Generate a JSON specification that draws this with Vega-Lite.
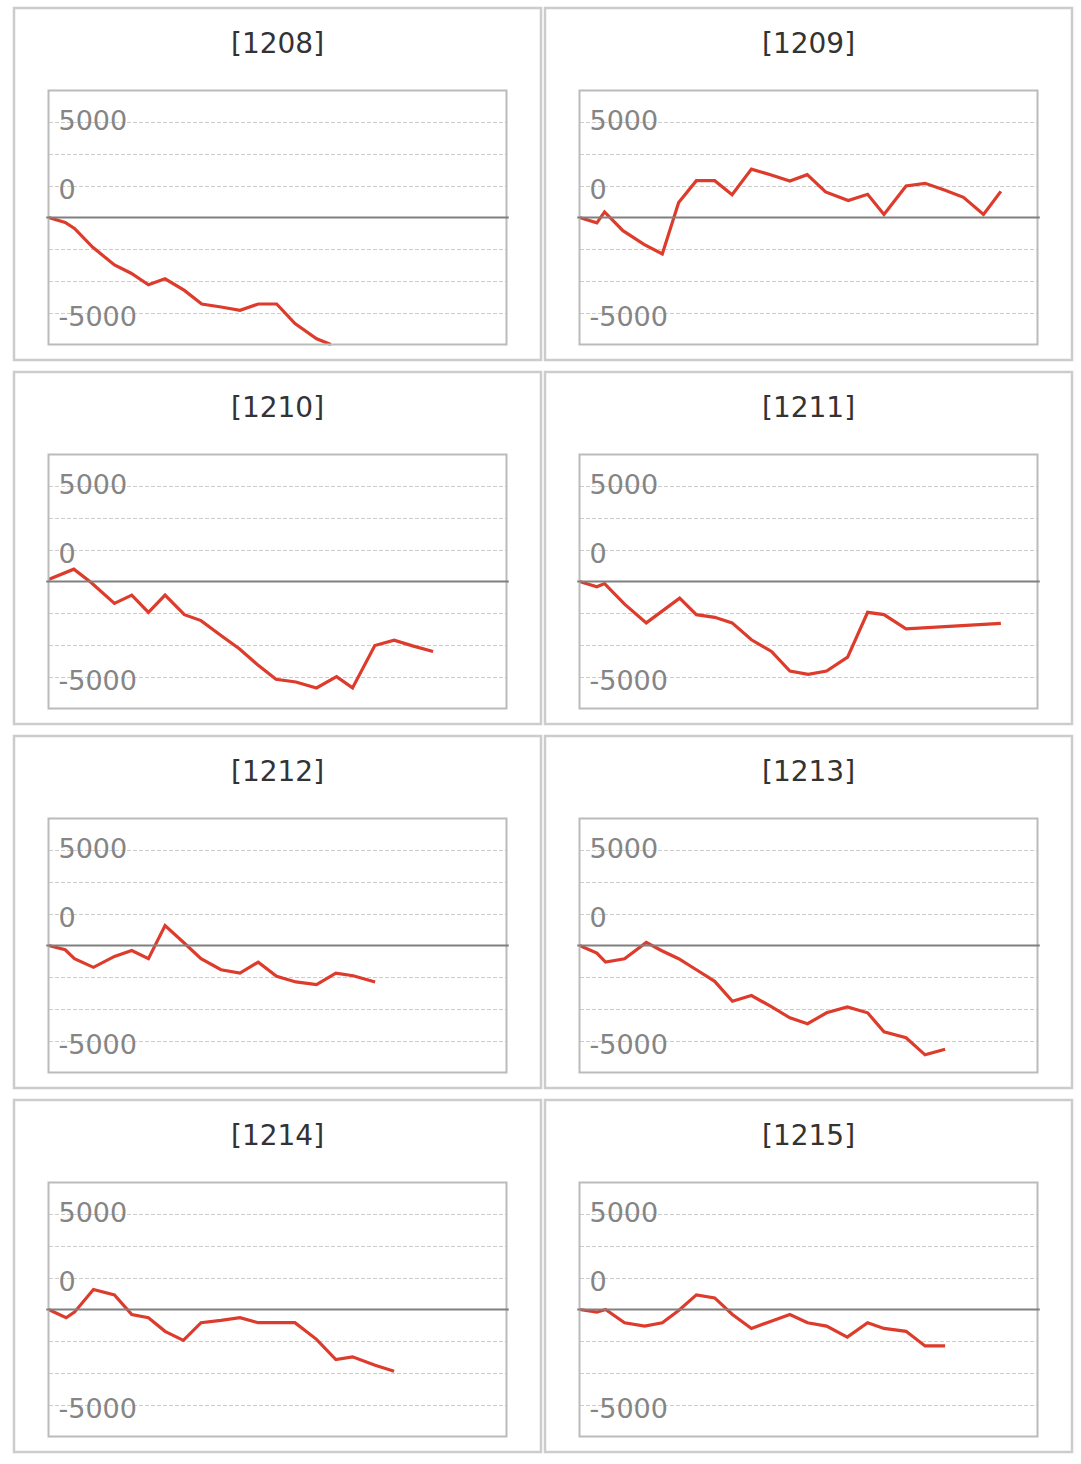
{
  "$schema": "https://vega.github.io/schema/vega-lite/v6.json",
  "background": "white",
  "padding": {"left": 12, "top": 6, "right": 8, "bottom": 8},
  "columns": 2,
  "spacing": {"row": 8, "column": 0},
  "config": {
    "view": {"stroke": "#cccccc", "strokeWidth": 2.5},
    "title": {"font": "DejaVu Sans", "fontSize": 28, "fontWeight": "normal", "color": "#333333", "anchor": "middle", "frame": "group", "baseline": "middle", "offset": -51},
    "axisY": {
      "domain": false, "ticks": false, "tickSize": 0, "grid": true,
      "labelAlign": "left", "labelPadding": -44, "labelBaseline": "middle",
      "labelFont": "DejaVu Sans", "labelFontSize": 27, "labelColor": "#858585",
      "labelBound": false, "labelOverlap": false, "labelFlush": false,
      "gridColor": "#cccccc", "gridDash": [4, 2], "gridWidth": 1
    }
  },
  "data": {"values": [
    {"p": "1208", "g": 0, "v": 0}, {"p": "1208", "g": 364, "v": -390}, {"p": "1208", "g": 567, "v": -860}, {"p": "1208", "g": 967, "v": -2350},
    {"p": "1208", "g": 1440, "v": -3730}, {"p": "1208", "g": 1804, "v": -4390}, {"p": "1208", "g": 2182, "v": -5300}, {"p": "1208", "g": 2545, "v": -4830},
    {"p": "1208", "g": 2967, "v": -5740}, {"p": "1208", "g": 3345, "v": -6810}, {"p": "1208", "g": 3767, "v": -7050}, {"p": "1208", "g": 4182, "v": -7310},
    {"p": "1208", "g": 4582, "v": -6810}, {"p": "1208", "g": 4982, "v": -6810}, {"p": "1208", "g": 5382, "v": -8350}, {"p": "1208", "g": 5855, "v": -9550},
    {"p": "1208", "g": 6165, "v": -10000},

    {"p": "1209", "g": 0, "v": 0}, {"p": "1209", "g": 379, "v": -420}, {"p": "1209", "g": 547, "v": 440}, {"p": "1209", "g": 948, "v": -1040},
    {"p": "1209", "g": 1407, "v": -2110}, {"p": "1209", "g": 1808, "v": -2870}, {"p": "1209", "g": 2165, "v": 1180}, {"p": "1209", "g": 2552, "v": 2900},
    {"p": "1209", "g": 2952, "v": 2900}, {"p": "1209", "g": 3332, "v": 1800}, {"p": "1209", "g": 3754, "v": 3810}, {"p": "1209", "g": 4170, "v": 3370},
    {"p": "1209", "g": 4593, "v": 2870}, {"p": "1209", "g": 4972, "v": 3370}, {"p": "1209", "g": 5373, "v": 2010}, {"p": "1209", "g": 5868, "v": 1330},
    {"p": "1209", "g": 6291, "v": 1830}, {"p": "1209", "g": 6648, "v": 240}, {"p": "1209", "g": 7130, "v": 2480}, {"p": "1209", "g": 7545, "v": 2690},
    {"p": "1209", "g": 7968, "v": 2170}, {"p": "1209", "g": 8384, "v": 1590}, {"p": "1209", "g": 8821, "v": 240}, {"p": "1209", "g": 9200, "v": 2060},

    {"p": "1210", "g": 0, "v": 150}, {"p": "1210", "g": 553, "v": 970}, {"p": "1210", "g": 930, "v": -80}, {"p": "1210", "g": 1440, "v": -1720},
    {"p": "1210", "g": 1818, "v": -1070}, {"p": "1210", "g": 2182, "v": -2430}, {"p": "1210", "g": 2545, "v": -1070}, {"p": "1210", "g": 2967, "v": -2610},
    {"p": "1210", "g": 3330, "v": -3080}, {"p": "1210", "g": 3766, "v": -4250}, {"p": "1210", "g": 4166, "v": -5300}, {"p": "1210", "g": 4566, "v": -6550},
    {"p": "1210", "g": 4966, "v": -7700}, {"p": "1210", "g": 5402, "v": -7910}, {"p": "1210", "g": 5852, "v": -8380}, {"p": "1210", "g": 6289, "v": -7490},
    {"p": "1210", "g": 6638, "v": -8380}, {"p": "1210", "g": 7125, "v": -5040}, {"p": "1210", "g": 7546, "v": -4620}, {"p": "1210", "g": 7968, "v": -5090},
    {"p": "1210", "g": 8397, "v": -5510},

    {"p": "1211", "g": 0, "v": 0}, {"p": "1211", "g": 379, "v": -420}, {"p": "1211", "g": 547, "v": -160}, {"p": "1211", "g": 984, "v": -1780},
    {"p": "1211", "g": 1458, "v": -3260}, {"p": "1211", "g": 2187, "v": -1310}, {"p": "1211", "g": 2552, "v": -2610}, {"p": "1211", "g": 2952, "v": -2820},
    {"p": "1211", "g": 3332, "v": -3260}, {"p": "1211", "g": 3754, "v": -4590}, {"p": "1211", "g": 4192, "v": -5510}, {"p": "1211", "g": 4593, "v": -7050},
    {"p": "1211", "g": 4994, "v": -7310}, {"p": "1211", "g": 5395, "v": -7050}, {"p": "1211", "g": 5854, "v": -5950}, {"p": "1211", "g": 6291, "v": -2430},
    {"p": "1211", "g": 6648, "v": -2610}, {"p": "1211", "g": 7130, "v": -3730}, {"p": "1211", "g": 9200, "v": -3290},

    {"p": "1212", "g": 0, "v": 0}, {"p": "1212", "g": 364, "v": -340}, {"p": "1212", "g": 567, "v": -1040}, {"p": "1212", "g": 981, "v": -1720},
    {"p": "1212", "g": 1440, "v": -860}, {"p": "1212", "g": 1818, "v": -390}, {"p": "1212", "g": 2182, "v": -1040}, {"p": "1212", "g": 2545, "v": 1570},
    {"p": "1212", "g": 2945, "v": 260}, {"p": "1212", "g": 3330, "v": -1040}, {"p": "1212", "g": 3766, "v": -1910}, {"p": "1212", "g": 4180, "v": -2170},
    {"p": "1212", "g": 4580, "v": -1310}, {"p": "1212", "g": 4980, "v": -2430}, {"p": "1212", "g": 5402, "v": -2870}, {"p": "1212", "g": 5852, "v": -3080},
    {"p": "1212", "g": 6274, "v": -2170}, {"p": "1212", "g": 6652, "v": -2380}, {"p": "1212", "g": 7132, "v": -2870},

    {"p": "1213", "g": 0, "v": 0}, {"p": "1213", "g": 379, "v": -600}, {"p": "1213", "g": 569, "v": -1310}, {"p": "1213", "g": 984, "v": -1040},
    {"p": "1213", "g": 1458, "v": 240}, {"p": "1213", "g": 1786, "v": -390}, {"p": "1213", "g": 2165, "v": -1040}, {"p": "1213", "g": 2552, "v": -1910},
    {"p": "1213", "g": 2952, "v": -2820}, {"p": "1213", "g": 3339, "v": -4390}, {"p": "1213", "g": 3754, "v": -3940}, {"p": "1213", "g": 4170, "v": -4780},
    {"p": "1213", "g": 4593, "v": -5690}, {"p": "1213", "g": 4979, "v": -6160}, {"p": "1213", "g": 5395, "v": -5300}, {"p": "1213", "g": 5847, "v": -4830},
    {"p": "1213", "g": 6291, "v": -5300}, {"p": "1213", "g": 6648, "v": -6790}, {"p": "1213", "g": 7130, "v": -7260}, {"p": "1213", "g": 7545, "v": -8610},
    {"p": "1213", "g": 7983, "v": -8170},

    {"p": "1214", "g": 0, "v": 0}, {"p": "1214", "g": 385, "v": -650}, {"p": "1214", "g": 567, "v": -210}, {"p": "1214", "g": 981, "v": 1570},
    {"p": "1214", "g": 1440, "v": 1150}, {"p": "1214", "g": 1818, "v": -390}, {"p": "1214", "g": 2182, "v": -650}, {"p": "1214", "g": 2545, "v": -1720},
    {"p": "1214", "g": 2945, "v": -2430}, {"p": "1214", "g": 3330, "v": -1040}, {"p": "1214", "g": 3766, "v": -860}, {"p": "1214", "g": 4180, "v": -650},
    {"p": "1214", "g": 4580, "v": -1040}, {"p": "1214", "g": 4980, "v": -1040}, {"p": "1214", "g": 5380, "v": -1040}, {"p": "1214", "g": 5852, "v": -2350},
    {"p": "1214", "g": 6274, "v": -3940}, {"p": "1214", "g": 6638, "v": -3730}, {"p": "1214", "g": 7132, "v": -4390}, {"p": "1214", "g": 7546, "v": -4860},

    {"p": "1215", "g": 0, "v": 0}, {"p": "1215", "g": 379, "v": -210}, {"p": "1215", "g": 569, "v": 0}, {"p": "1215", "g": 984, "v": -1040},
    {"p": "1215", "g": 1422, "v": -1310}, {"p": "1215", "g": 1808, "v": -1040}, {"p": "1215", "g": 2165, "v": -80}, {"p": "1215", "g": 2552, "v": 1150},
    {"p": "1215", "g": 2952, "v": 910}, {"p": "1215", "g": 3339, "v": -390}, {"p": "1215", "g": 3754, "v": -1490}, {"p": "1215", "g": 4170, "v": -940},
    {"p": "1215", "g": 4593, "v": -390}, {"p": "1215", "g": 4979, "v": -1040}, {"p": "1215", "g": 5395, "v": -1310}, {"p": "1215", "g": 5847, "v": -2170},
    {"p": "1215", "g": 6291, "v": -1040}, {"p": "1215", "g": 6648, "v": -1490}, {"p": "1215", "g": 7130, "v": -1720}, {"p": "1215", "g": 7545, "v": -2870},
    {"p": "1215", "g": 7983, "v": -2870}
  ]},
  "concat": [
    {"width": 527, "height": 352, "title": "[1208]", "layer": [
      {"transform": [{"filter": "datum.p == '1208'"}], "mark": {"type": "line", "color": "#dd3b2c", "strokeWidth": 3.2},
       "encoding": {"x": {"field": "g", "type": "quantitative", "scale": {"domain": [0, 10000], "range": [34.5, 492.5], "nice": false, "zero": false}, "axis": null},
                    "y": {"field": "v", "type": "quantitative", "scale": {"domain": [-10000, 10000], "range": [336.5, 82.5], "nice": false}, "axis": {"title": null, "values": [-7500, -5000, -2500, 2500, 5000, 7500], "labelExpr": "datum.value == 7500 ? '5000' : datum.value == 2500 ? '0' : datum.value == -7500 ? '-5000' : ''", "labelOffset": {"condition": {"test": "datum.value == 7500", "value": -1}, "value": 5}}}}},
      {"data": {"values": [{}]}, "mark": {"type": "rect", "filled": false, "color": "#bbbbbb", "strokeWidth": 2},
       "encoding": {"x": {"datum": 0, "type": "quantitative"}, "x2": {"datum": 10000}, "y": {"datum": -10000, "type": "quantitative"}, "y2": {"datum": 10000}}},
      {"data": {"values": [{}]}, "mark": {"type": "rule", "color": "#808080", "strokeWidth": 2},
       "encoding": {"x": {"datum": -50, "type": "quantitative"}, "x2": {"datum": 10050}, "y": {"datum": 0, "type": "quantitative"}}}
    ]},
    {"width": 527, "height": 352, "title": "[1209]", "layer": [
      {"transform": [{"filter": "datum.p == '1209'"}], "mark": {"type": "line", "color": "#dd3b2c", "strokeWidth": 3.2},
       "encoding": {"x": {"field": "g", "type": "quantitative", "scale": {"domain": [0, 10000], "range": [34.5, 492.5], "nice": false, "zero": false}, "axis": null},
                    "y": {"field": "v", "type": "quantitative", "scale": {"domain": [-10000, 10000], "range": [336.5, 82.5], "nice": false}, "axis": {"title": null, "values": [-7500, -5000, -2500, 2500, 5000, 7500], "labelExpr": "datum.value == 7500 ? '5000' : datum.value == 2500 ? '0' : datum.value == -7500 ? '-5000' : ''", "labelOffset": {"condition": {"test": "datum.value == 7500", "value": -1}, "value": 5}}}}},
      {"data": {"values": [{}]}, "mark": {"type": "rect", "filled": false, "color": "#bbbbbb", "strokeWidth": 2},
       "encoding": {"x": {"datum": 0, "type": "quantitative"}, "x2": {"datum": 10000}, "y": {"datum": -10000, "type": "quantitative"}, "y2": {"datum": 10000}}},
      {"data": {"values": [{}]}, "mark": {"type": "rule", "color": "#808080", "strokeWidth": 2},
       "encoding": {"x": {"datum": -50, "type": "quantitative"}, "x2": {"datum": 10050}, "y": {"datum": 0, "type": "quantitative"}}}
    ]},
    {"width": 527, "height": 352, "title": "[1210]", "layer": [
      {"transform": [{"filter": "datum.p == '1210'"}], "mark": {"type": "line", "color": "#dd3b2c", "strokeWidth": 3.2},
       "encoding": {"x": {"field": "g", "type": "quantitative", "scale": {"domain": [0, 10000], "range": [34.5, 492.5], "nice": false, "zero": false}, "axis": null},
                    "y": {"field": "v", "type": "quantitative", "scale": {"domain": [-10000, 10000], "range": [336.5, 82.5], "nice": false}, "axis": {"title": null, "values": [-7500, -5000, -2500, 2500, 5000, 7500], "labelExpr": "datum.value == 7500 ? '5000' : datum.value == 2500 ? '0' : datum.value == -7500 ? '-5000' : ''", "labelOffset": {"condition": {"test": "datum.value == 7500", "value": -1}, "value": 5}}}}},
      {"data": {"values": [{}]}, "mark": {"type": "rect", "filled": false, "color": "#bbbbbb", "strokeWidth": 2},
       "encoding": {"x": {"datum": 0, "type": "quantitative"}, "x2": {"datum": 10000}, "y": {"datum": -10000, "type": "quantitative"}, "y2": {"datum": 10000}}},
      {"data": {"values": [{}]}, "mark": {"type": "rule", "color": "#808080", "strokeWidth": 2},
       "encoding": {"x": {"datum": -50, "type": "quantitative"}, "x2": {"datum": 10050}, "y": {"datum": 0, "type": "quantitative"}}}
    ]},
    {"width": 527, "height": 352, "title": "[1211]", "layer": [
      {"transform": [{"filter": "datum.p == '1211'"}], "mark": {"type": "line", "color": "#dd3b2c", "strokeWidth": 3.2},
       "encoding": {"x": {"field": "g", "type": "quantitative", "scale": {"domain": [0, 10000], "range": [34.5, 492.5], "nice": false, "zero": false}, "axis": null},
                    "y": {"field": "v", "type": "quantitative", "scale": {"domain": [-10000, 10000], "range": [336.5, 82.5], "nice": false}, "axis": {"title": null, "values": [-7500, -5000, -2500, 2500, 5000, 7500], "labelExpr": "datum.value == 7500 ? '5000' : datum.value == 2500 ? '0' : datum.value == -7500 ? '-5000' : ''", "labelOffset": {"condition": {"test": "datum.value == 7500", "value": -1}, "value": 5}}}}},
      {"data": {"values": [{}]}, "mark": {"type": "rect", "filled": false, "color": "#bbbbbb", "strokeWidth": 2},
       "encoding": {"x": {"datum": 0, "type": "quantitative"}, "x2": {"datum": 10000}, "y": {"datum": -10000, "type": "quantitative"}, "y2": {"datum": 10000}}},
      {"data": {"values": [{}]}, "mark": {"type": "rule", "color": "#808080", "strokeWidth": 2},
       "encoding": {"x": {"datum": -50, "type": "quantitative"}, "x2": {"datum": 10050}, "y": {"datum": 0, "type": "quantitative"}}}
    ]},
    {"width": 527, "height": 352, "title": "[1212]", "layer": [
      {"transform": [{"filter": "datum.p == '1212'"}], "mark": {"type": "line", "color": "#dd3b2c", "strokeWidth": 3.2},
       "encoding": {"x": {"field": "g", "type": "quantitative", "scale": {"domain": [0, 10000], "range": [34.5, 492.5], "nice": false, "zero": false}, "axis": null},
                    "y": {"field": "v", "type": "quantitative", "scale": {"domain": [-10000, 10000], "range": [336.5, 82.5], "nice": false}, "axis": {"title": null, "values": [-7500, -5000, -2500, 2500, 5000, 7500], "labelExpr": "datum.value == 7500 ? '5000' : datum.value == 2500 ? '0' : datum.value == -7500 ? '-5000' : ''", "labelOffset": {"condition": {"test": "datum.value == 7500", "value": -1}, "value": 5}}}}},
      {"data": {"values": [{}]}, "mark": {"type": "rect", "filled": false, "color": "#bbbbbb", "strokeWidth": 2},
       "encoding": {"x": {"datum": 0, "type": "quantitative"}, "x2": {"datum": 10000}, "y": {"datum": -10000, "type": "quantitative"}, "y2": {"datum": 10000}}},
      {"data": {"values": [{}]}, "mark": {"type": "rule", "color": "#808080", "strokeWidth": 2},
       "encoding": {"x": {"datum": -50, "type": "quantitative"}, "x2": {"datum": 10050}, "y": {"datum": 0, "type": "quantitative"}}}
    ]},
    {"width": 527, "height": 352, "title": "[1213]", "layer": [
      {"transform": [{"filter": "datum.p == '1213'"}], "mark": {"type": "line", "color": "#dd3b2c", "strokeWidth": 3.2},
       "encoding": {"x": {"field": "g", "type": "quantitative", "scale": {"domain": [0, 10000], "range": [34.5, 492.5], "nice": false, "zero": false}, "axis": null},
                    "y": {"field": "v", "type": "quantitative", "scale": {"domain": [-10000, 10000], "range": [336.5, 82.5], "nice": false}, "axis": {"title": null, "values": [-7500, -5000, -2500, 2500, 5000, 7500], "labelExpr": "datum.value == 7500 ? '5000' : datum.value == 2500 ? '0' : datum.value == -7500 ? '-5000' : ''", "labelOffset": {"condition": {"test": "datum.value == 7500", "value": -1}, "value": 5}}}}},
      {"data": {"values": [{}]}, "mark": {"type": "rect", "filled": false, "color": "#bbbbbb", "strokeWidth": 2},
       "encoding": {"x": {"datum": 0, "type": "quantitative"}, "x2": {"datum": 10000}, "y": {"datum": -10000, "type": "quantitative"}, "y2": {"datum": 10000}}},
      {"data": {"values": [{}]}, "mark": {"type": "rule", "color": "#808080", "strokeWidth": 2},
       "encoding": {"x": {"datum": -50, "type": "quantitative"}, "x2": {"datum": 10050}, "y": {"datum": 0, "type": "quantitative"}}}
    ]},
    {"width": 527, "height": 352, "title": "[1214]", "layer": [
      {"transform": [{"filter": "datum.p == '1214'"}], "mark": {"type": "line", "color": "#dd3b2c", "strokeWidth": 3.2},
       "encoding": {"x": {"field": "g", "type": "quantitative", "scale": {"domain": [0, 10000], "range": [34.5, 492.5], "nice": false, "zero": false}, "axis": null},
                    "y": {"field": "v", "type": "quantitative", "scale": {"domain": [-10000, 10000], "range": [336.5, 82.5], "nice": false}, "axis": {"title": null, "values": [-7500, -5000, -2500, 2500, 5000, 7500], "labelExpr": "datum.value == 7500 ? '5000' : datum.value == 2500 ? '0' : datum.value == -7500 ? '-5000' : ''", "labelOffset": {"condition": {"test": "datum.value == 7500", "value": -1}, "value": 5}}}}},
      {"data": {"values": [{}]}, "mark": {"type": "rect", "filled": false, "color": "#bbbbbb", "strokeWidth": 2},
       "encoding": {"x": {"datum": 0, "type": "quantitative"}, "x2": {"datum": 10000}, "y": {"datum": -10000, "type": "quantitative"}, "y2": {"datum": 10000}}},
      {"data": {"values": [{}]}, "mark": {"type": "rule", "color": "#808080", "strokeWidth": 2},
       "encoding": {"x": {"datum": -50, "type": "quantitative"}, "x2": {"datum": 10050}, "y": {"datum": 0, "type": "quantitative"}}}
    ]},
    {"width": 527, "height": 352, "title": "[1215]", "layer": [
      {"transform": [{"filter": "datum.p == '1215'"}], "mark": {"type": "line", "color": "#dd3b2c", "strokeWidth": 3.2},
       "encoding": {"x": {"field": "g", "type": "quantitative", "scale": {"domain": [0, 10000], "range": [34.5, 492.5], "nice": false, "zero": false}, "axis": null},
                    "y": {"field": "v", "type": "quantitative", "scale": {"domain": [-10000, 10000], "range": [336.5, 82.5], "nice": false}, "axis": {"title": null, "values": [-7500, -5000, -2500, 2500, 5000, 7500], "labelExpr": "datum.value == 7500 ? '5000' : datum.value == 2500 ? '0' : datum.value == -7500 ? '-5000' : ''", "labelOffset": {"condition": {"test": "datum.value == 7500", "value": -1}, "value": 5}}}}},
      {"data": {"values": [{}]}, "mark": {"type": "rect", "filled": false, "color": "#bbbbbb", "strokeWidth": 2},
       "encoding": {"x": {"datum": 0, "type": "quantitative"}, "x2": {"datum": 10000}, "y": {"datum": -10000, "type": "quantitative"}, "y2": {"datum": 10000}}},
      {"data": {"values": [{}]}, "mark": {"type": "rule", "color": "#808080", "strokeWidth": 2},
       "encoding": {"x": {"datum": -50, "type": "quantitative"}, "x2": {"datum": 10050}, "y": {"datum": 0, "type": "quantitative"}}}
    ]}
  ]
}
